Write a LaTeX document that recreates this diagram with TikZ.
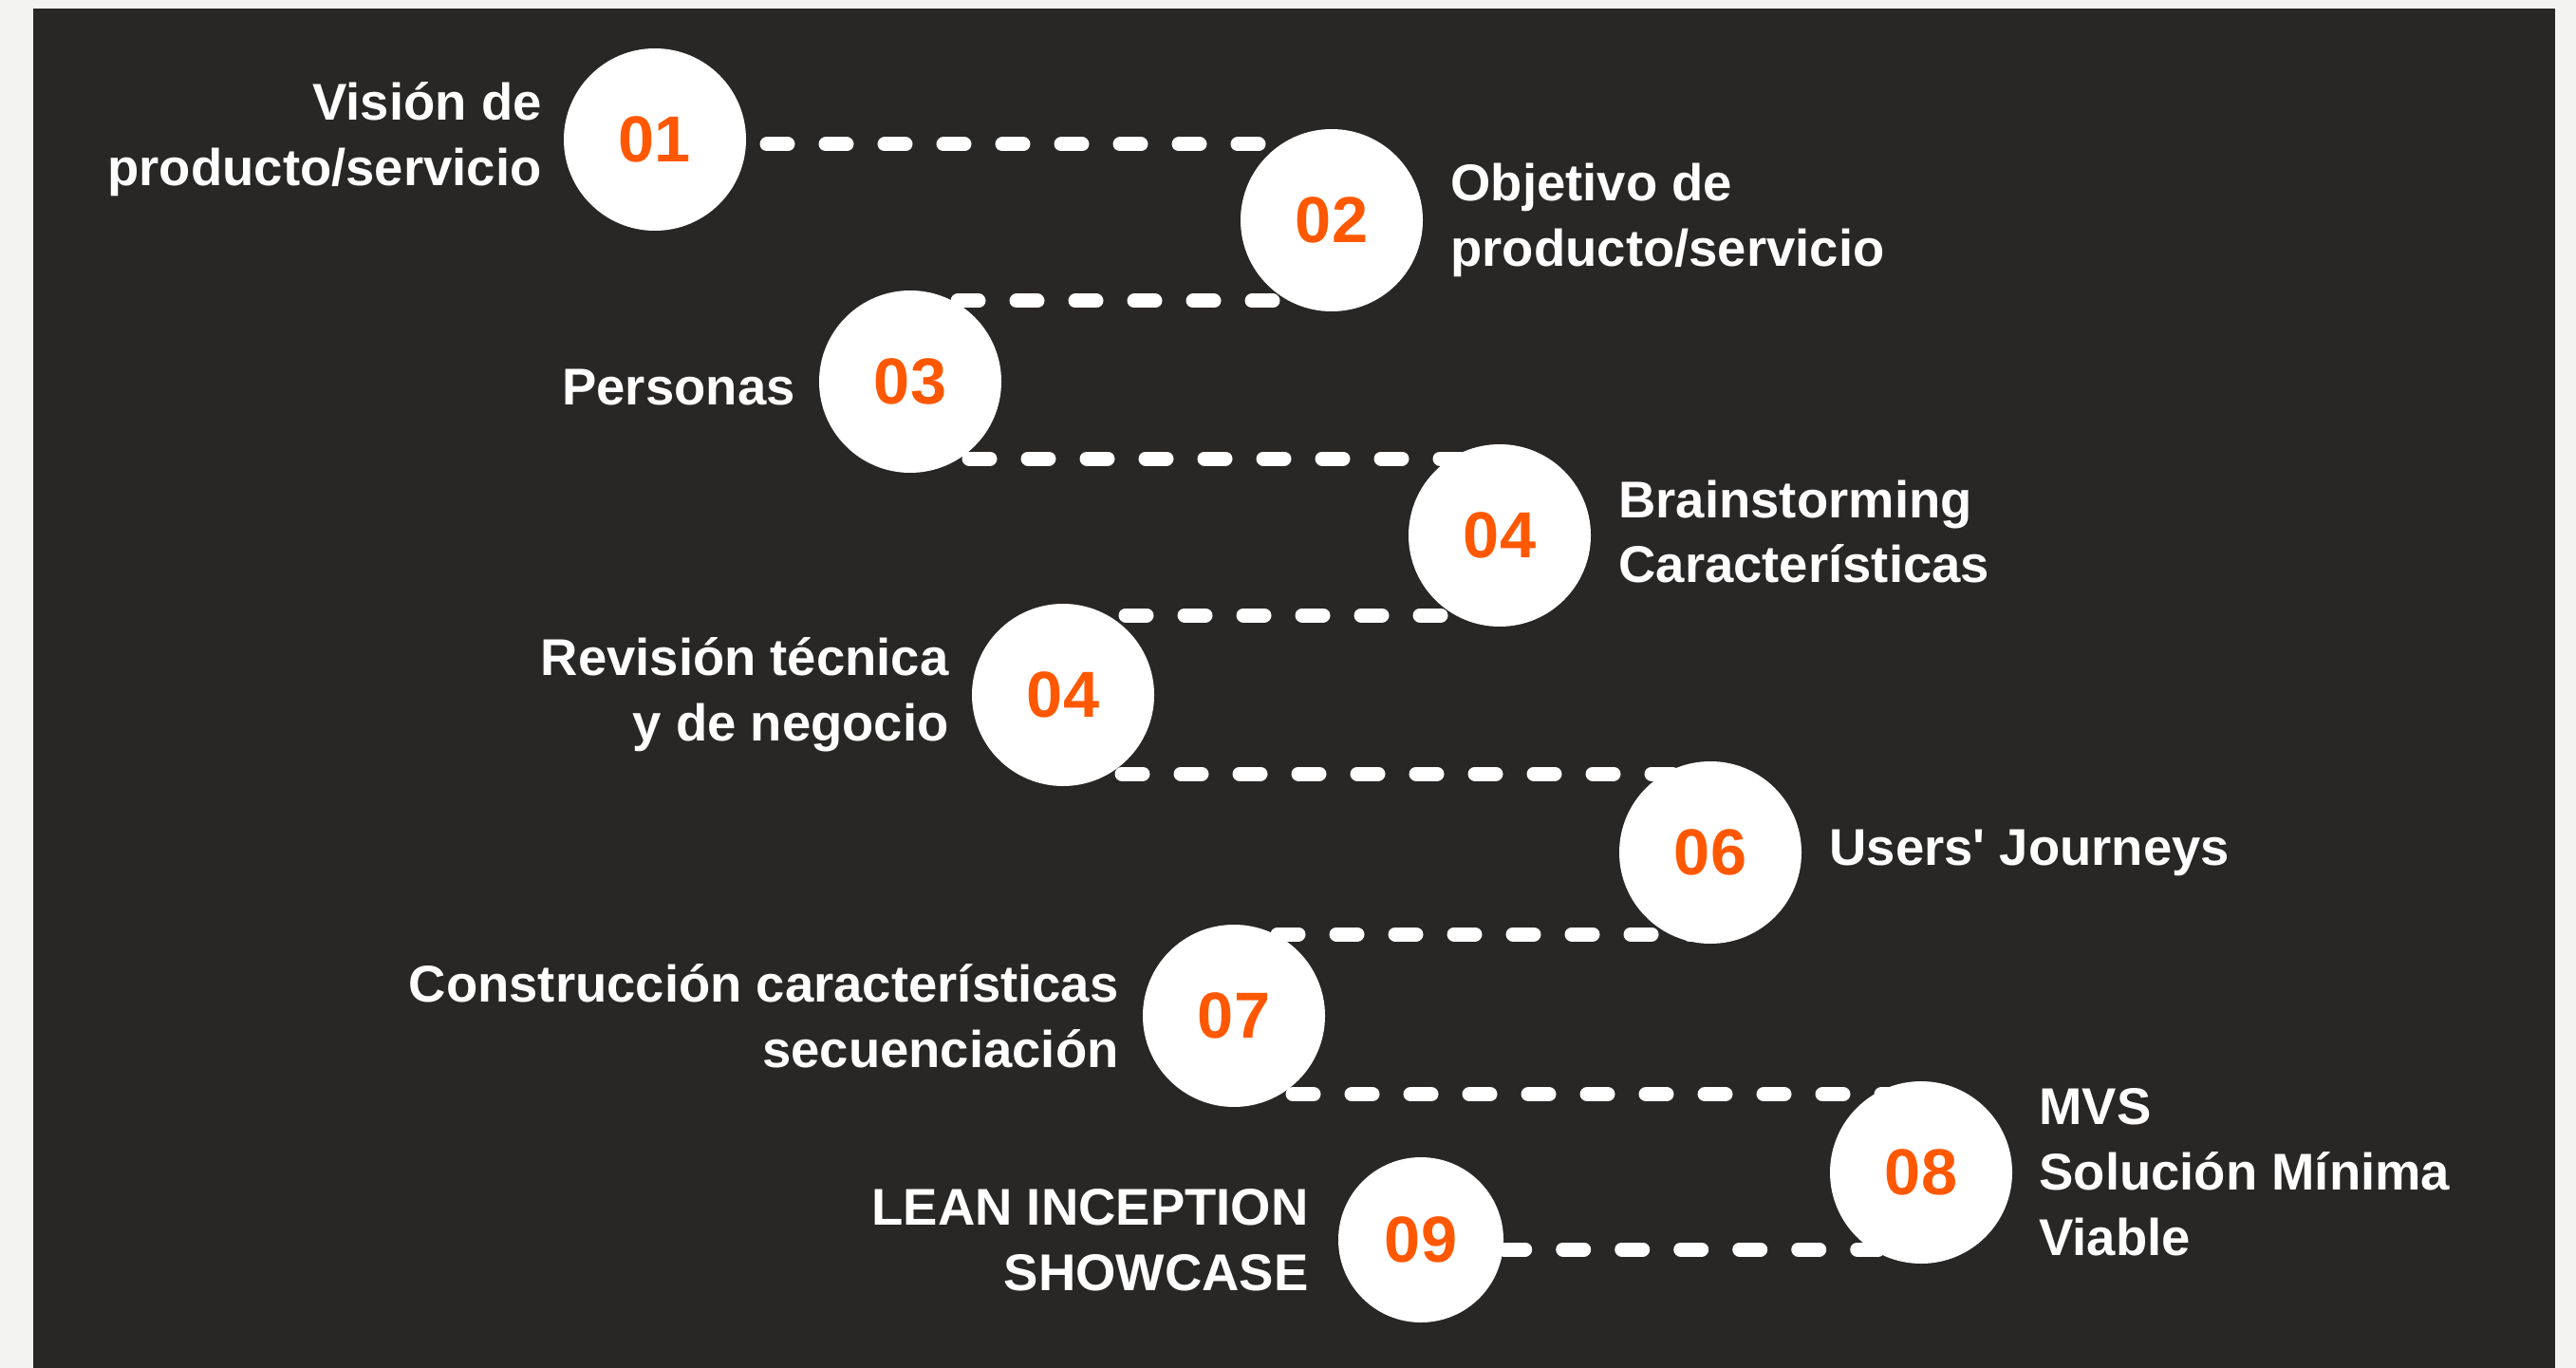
\documentclass[tikz,border=0pt]{standalone}
\usepackage{fontspec}
\setmainfont{Liberation Sans}
\usepackage{tikz}
\usetikzlibrary{positioning,calc}

\definecolor{board}{HTML}{282726}
\definecolor{paper}{HTML}{F3F3F1}
\definecolor{numorange}{RGB}{255,88,0}

\tikzset{
  stepdot/.style={circle, fill=white, minimum size=1.92cm, inner sep=0pt,
    text=numorange, font=\fontsize{19.5}{20}\selectfont\bfseries},
  steptext/.style={text=white, inner sep=0pt,
    font=\fontsize{15.5}{19.6}\selectfont\bfseries},
  link/.style={white, line width=0.15cm, line cap=round,
    dash pattern=on 0.22cm off 0.40cm}
}

\begin{document}
\begin{tikzpicture}
	\useasboundingbox (0,0) rectangle (27.14,-14.41);
	\fill[paper] (0,0) rectangle (27.14,-14.41);
	\fill[board] (0.35,-0.09) rectangle (26.92,-14.41);

	% etapas
	\node[stepdot] (c01) at (6.90,-1.47) {01};
	\node[stepdot] (c02) at (14.03,-2.32) {02};
	\node[stepdot] (c03) at (9.59,-4.02) {03};
	\node[stepdot] (c04) at (15.80,-5.64) {04};
	\node[stepdot] (c05) at (11.20,-7.32) {04};
	\node[stepdot] (c06) at (18.02,-8.98) {06};
	\node[stepdot] (c07) at (13.00,-10.70) {07};
	\node[stepdot] (c08) at (20.24,-12.35) {08};
	\node[stepdot, minimum size=1.74cm] (c09) at (14.97,-13.06) {09};

	% textos
	\node[steptext, align=right, left=0.22cm of c01] (t01) {Visión de\\producto/servicio};
	\node[steptext, align=left, right=0.28cm of c02] (t02) {Objetivo de\\producto/servicio};
	\node[steptext, align=right, left=0.24cm of c03, yshift=-0.06cm] (t03) {Personas};
	\node[steptext, align=left, right=0.28cm of c04, yshift=0.04cm] (t04) {Brainstorming\\Características};
	\node[steptext, align=right, left=0.23cm of c05] (t05) {Revisión técnica\\y de negocio};
	\node[steptext, align=left, right=0.28cm of c06] (t06) {Users\textquotesingle{} Journeys};
	\node[steptext, align=right, left=0.24cm of c07] (t07) {Construcción características\\secuenciación};
	\node[steptext, align=left, right=0.27cm of c08] (t08) {MVS\\Solución Mínima\\Viable};
	\node[steptext, align=right, left=0.30cm of c09] (t09) {LEAN INCEPTION\\SHOWCASE};

	% conectores
	\coordinate (m23) at ($(c02)!0.5!(c03)$);
	\coordinate (m34) at ($(c03)!0.5!(c04)$);
	\coordinate (m45) at ($(c04)!0.5!(c05)$);
	\coordinate (m56) at ($(c05)!0.5!(c06)$);
	\coordinate (m67) at ($(c06)!0.5!(c07)$);
	\coordinate (m78) at ($(c07)!0.5!(c08)$);
	\coordinate (m89) at ([yshift=-0.1cm]c09.east);

	\draw[link] ([xshift=1.18cm,yshift=-0.05cm]c01.center) -- ([yshift=-0.05cm]c01.center -| c02);
	\draw[link] (c02 |- m23) -- (c03 |- m23);
	\draw[link] (c03 |- m34) -- (c04 |- m34);
	\draw[link] (c04 |- m45) -- (c05 |- m45);
	\draw[link] (c05 |- m56) -- (c06 |- m56);
	\draw[link] (c06 |- m67) -- (c07 |- m67);
	\draw[link] (c07 |- m78) -- (c08 |- m78);
	\draw[link] (m89) -- (c08 |- m89);
\end{tikzpicture}
\end{document}
